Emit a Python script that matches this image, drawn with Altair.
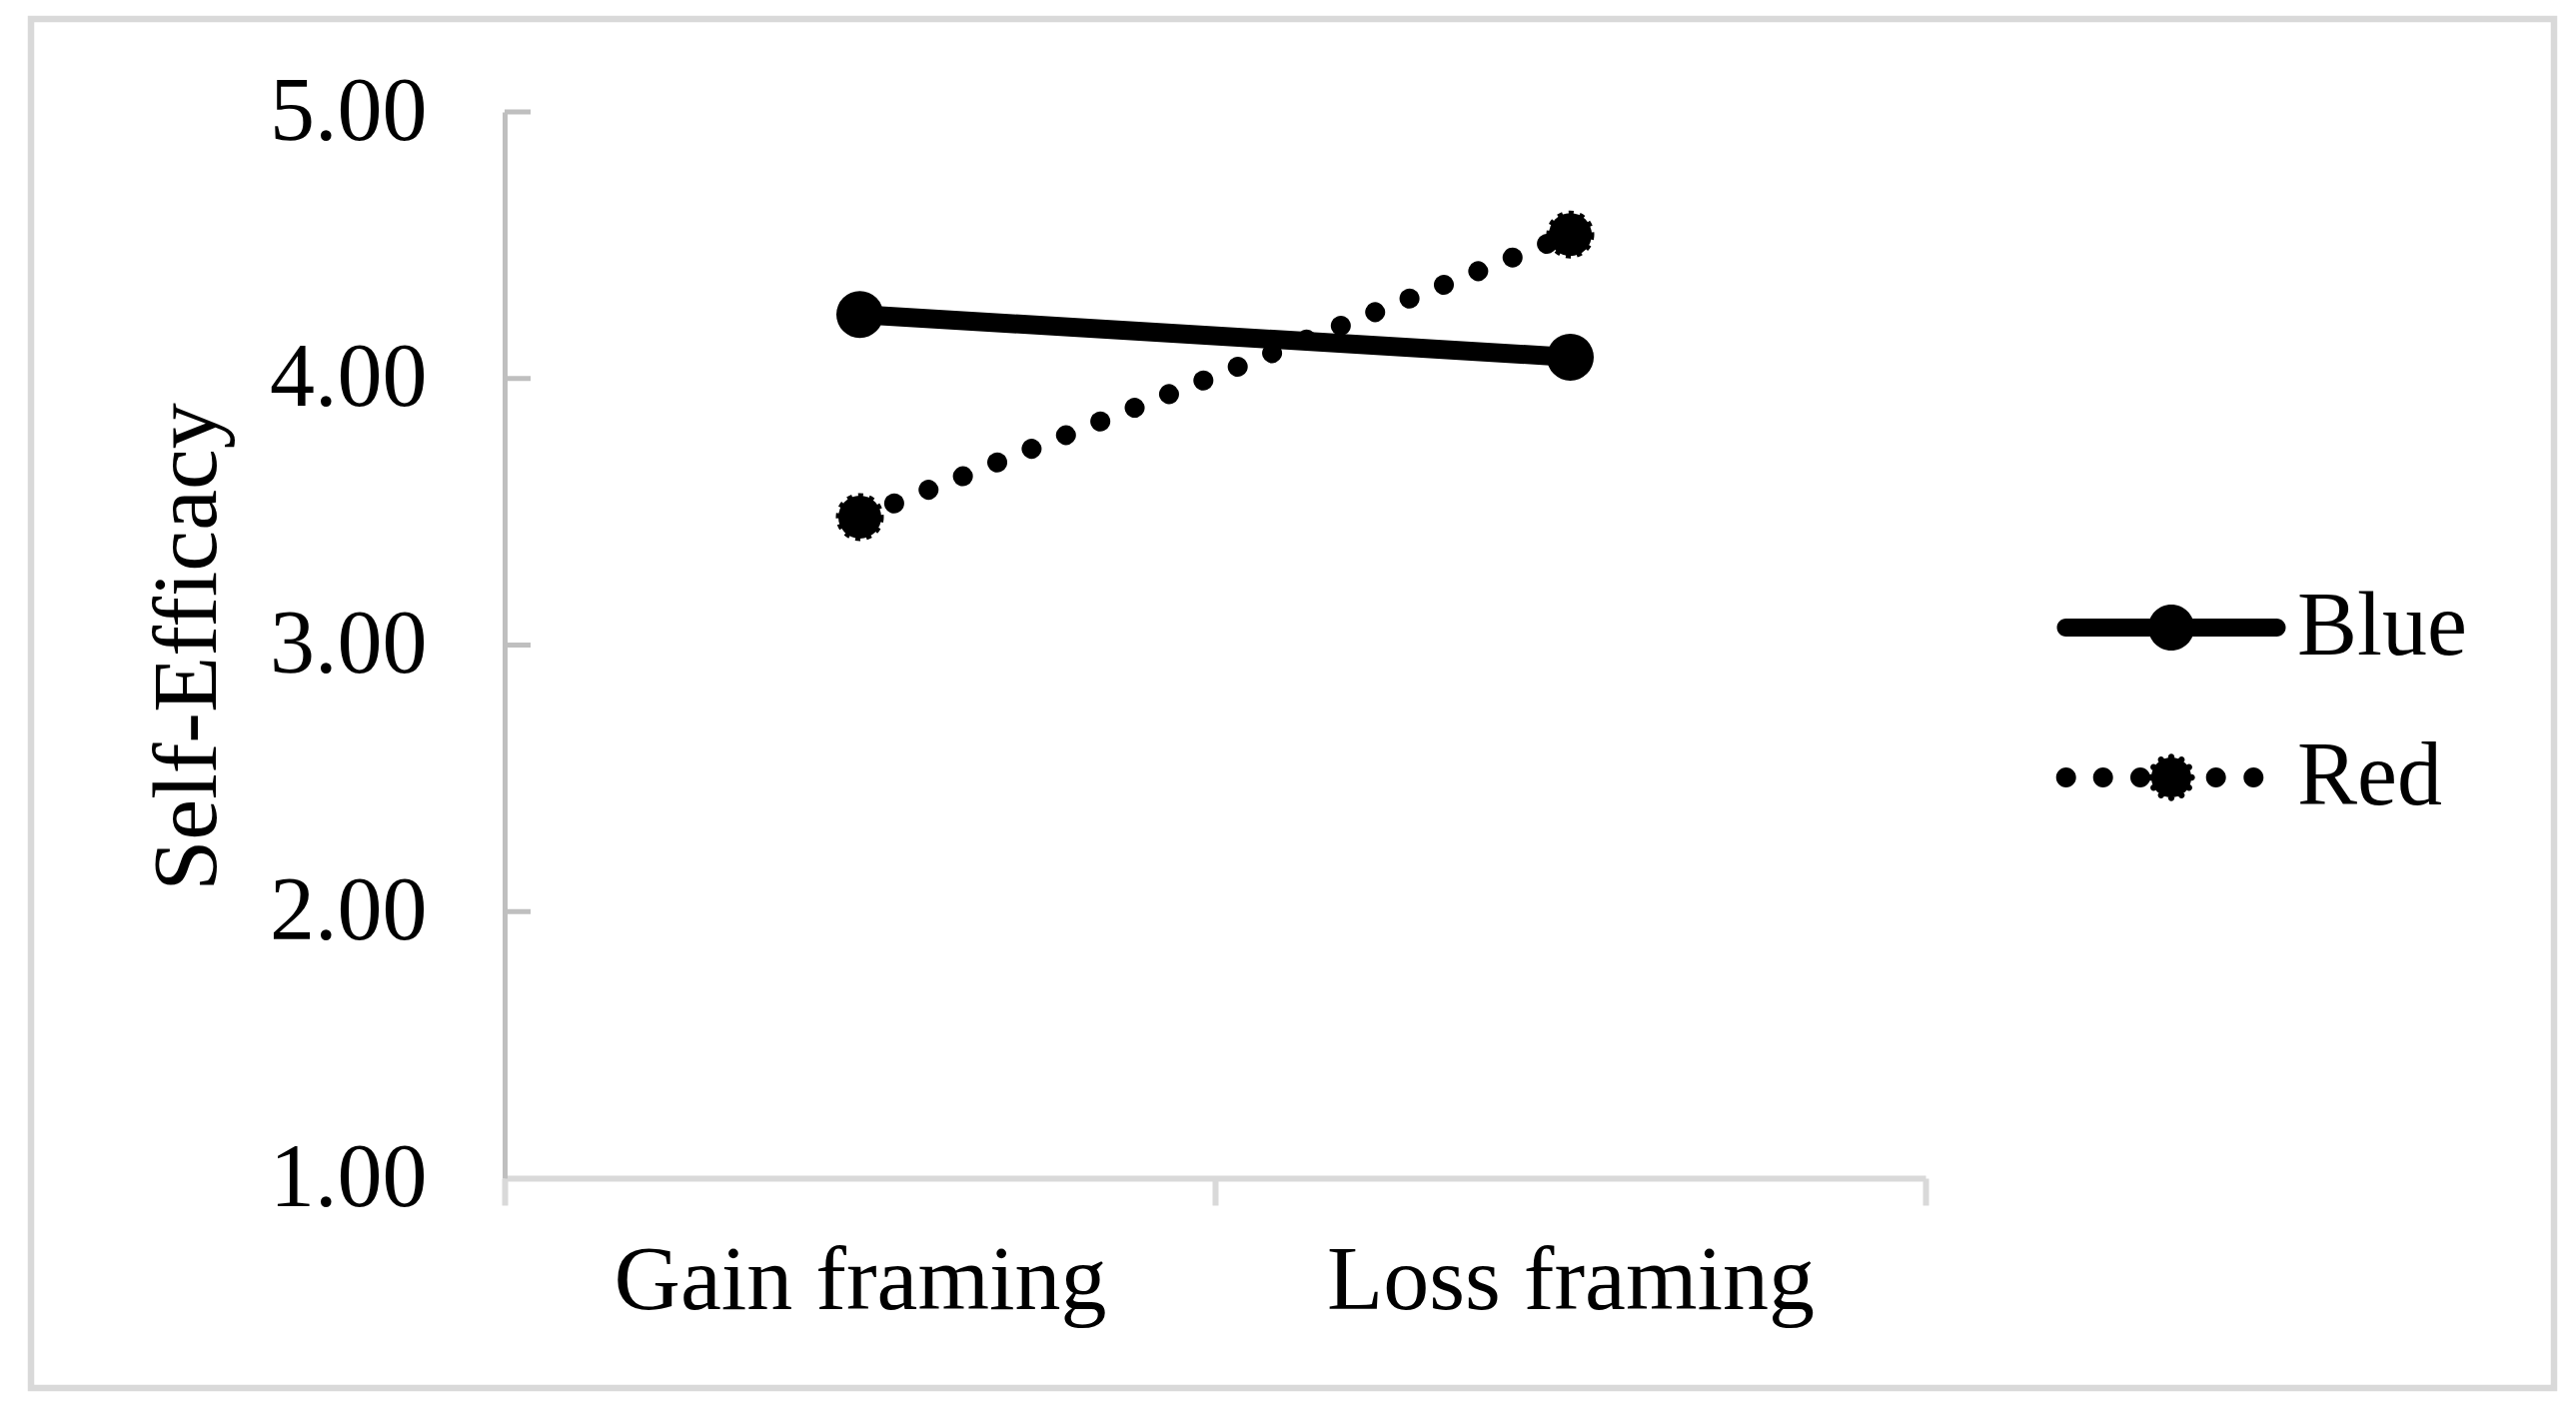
import altair as alt
import pandas as pd
import math

# ---- data ----
conditions = ["Gain framing", "Loss framing"]
series_names = ["Blue", "Red"]
blue_values = [4.24, 4.08]
red_values = [3.48, 4.54]
y_ticks = [1, 2, 3, 4, 5]

rows = []
for s, vals in zip(series_names, [blue_values, red_values]):
    for c, v in zip(conditions, vals):
        rows.append({"condition": c, "series": s, "value": v})
df = pd.DataFrame(rows)
ticks_df = pd.DataFrame({"tick": y_ticks})

FONT = "Liberation Serif"
FS = 90
W, H = 1422, 1067


# ---- legend symbol paths (style only, all filled shapes) ----
def f(v):
    return f"{v:.4f}"


def circ(cx, cy, r):
    k = 0.5523 * r
    return (f"M{f(cx - r)},{f(cy)}"
            f"C{f(cx - r)},{f(cy - k)},{f(cx - k)},{f(cy - r)},{f(cx)},{f(cy - r)}"
            f"C{f(cx + k)},{f(cy - r)},{f(cx + r)},{f(cy - k)},{f(cx + r)},{f(cy)}"
            f"C{f(cx + r)},{f(cy + k)},{f(cx + k)},{f(cy + r)},{f(cx)},{f(cy + r)}"
            f"C{f(cx - k)},{f(cy + r)},{f(cx - r)},{f(cy + k)},{f(cx - r)},{f(cy)}Z")


def rect(x0, y0, x1, y1):
    return f"M{f(x0)},{f(y0)}L{f(x1)},{f(y0)}L{f(x1)},{f(y1)}L{f(x0)},{f(y1)}Z"


UNIT = 23.0  # px per path unit (symbol size 46^2)
half_line = 105.5 / UNIT
half_w = 9.0 / UNIT
blue_path = (rect(-half_line, -half_w, half_line, half_w)
             + circ(-half_line, 0, half_w) + circ(half_line, 0, half_w)
             + circ(0, 0, 1.0))
red_dot_px = [-105.3, -68.3, -31.0, 44.7, 82.3]
red_path = circ(0, 0, 20.0 / UNIT)
for i in range(12):
    a = 2 * math.pi * i / 12
    red_path += circ(math.cos(a) * 20.5 / UNIT, math.sin(a) * 20.5 / UNIT, 3.2 / UNIT)
for d in red_dot_px:
    red_path += circ(d / UNIT, 0, 10.0 / UNIT)

x_scale = alt.Scale(type="band", paddingInner=0, paddingOuter=0)
y_scale = alt.Scale(domain=[1, 5], nice=False, zero=False)

x_axis = alt.Axis(title=None, labelAngle=0, labelFont=FONT, labelFontSize=92,
                  labelColor="black", labelLimit=0, domainColor="#d9d9d9", domainWidth=6,
                  tickColor="#d9d9d9", tickWidth=6, tickSize=27, tickBand="extent",
                  labelPadding=30, grid=False)
y_axis = alt.Axis(values=y_ticks, format=".2f", labelFont=FONT, labelFontSize=FS,
                  labelColor="black", labelLimit=0, labelPadding=78, ticks=False, tickSize=0,
                  domainColor="#bfbfbf", domainWidth=5, grid=False,
                  title="Self-Efficacy", titleFont=FONT, titleFontSize=92,
                  titleFontWeight="normal", titleColor="black", titleAngle=270,
                  titleBaseline="alphabetic", titleAlign="center",
                  titleX=-290, titleY=535)

X = alt.X("condition:N", sort=conditions, scale=x_scale, axis=x_axis)
Y = alt.Y("value:Q", scale=y_scale, axis=y_axis)

legend = alt.Legend(
    title=None, orient="none", legendX=1623, legendY=471, padding=0,
    symbolSize=2116, symbolStrokeWidth=0, symbolFillColor="black",
    labelFont=FONT, labelFontSize=FS, labelColor="black", labelOffset=81,
    rowPadding=60, labelLimit=0,
)

blue_line = alt.Chart(df).transform_filter(alt.datum.series == "Blue").mark_line(
    color="black", strokeWidth=19, strokeCap="round").encode(x=X, y=Y)

red_line = alt.Chart(df).transform_filter(alt.datum.series == "Red").mark_line(
    color="black", strokeWidth=20, strokeCap="round",
    strokeDash=[0.01, 36.99]).encode(x=X, y=Y)

blue_pts = alt.Chart(df).transform_filter(alt.datum.series == "Blue").mark_point(
    shape="circle", filled=True, fill="black", size=2209, opacity=1).encode(x=X, y=Y)

red_pts = alt.Chart(df).transform_filter(alt.datum.series == "Red").mark_point(
    shape="circle", filled=True, fill="black", stroke="black", strokeWidth=5,
    strokeDash=[5, 6], size=1849, opacity=1).encode(x=X, y=Y)

# legend-only layer: no rows survive the filter, the legend comes from the scale domain
legend_layer = alt.Chart(df).transform_filter("false").mark_point(
    filled=True, fill="black", strokeWidth=0, size=2116, opacity=1).encode(
    x=X, y=Y,
    shape=alt.Shape("series:N", sort=series_names,
                    scale=alt.Scale(domain=series_names, range=[blue_path, red_path]),
                    legend=legend),
)

y_tick_marks = alt.Chart(ticks_df).transform_filter(alt.datum.tick > 1).mark_rule(
    color="#bfbfbf", strokeWidth=5).encode(
    y=alt.Y("tick:Q", scale=y_scale, axis=y_axis),
    x=alt.value(0), x2=alt.value(26))

frame = alt.Chart(alt.Data(values=[{}])).mark_rect(
    fill="transparent", stroke="#d9d9d9", strokeWidth=6.5).encode(
    x=alt.value(-474), x2=alt.value(2051), y=alt.value(-93), y2=alt.value(1277))

chart = alt.layer(frame, y_tick_marks, blue_line, red_line, blue_pts, red_pts,
                  legend_layer).properties(
    width=W, height=H,
    autosize=alt.AutoSizeParams(type="none"),
    padding={"left": 497, "top": 104, "right": 643, "bottom": 224},
    background="white",
).configure_view(strokeWidth=0)

chart.save("out.html", embed_options={"renderer": "svg", "actions": False})
